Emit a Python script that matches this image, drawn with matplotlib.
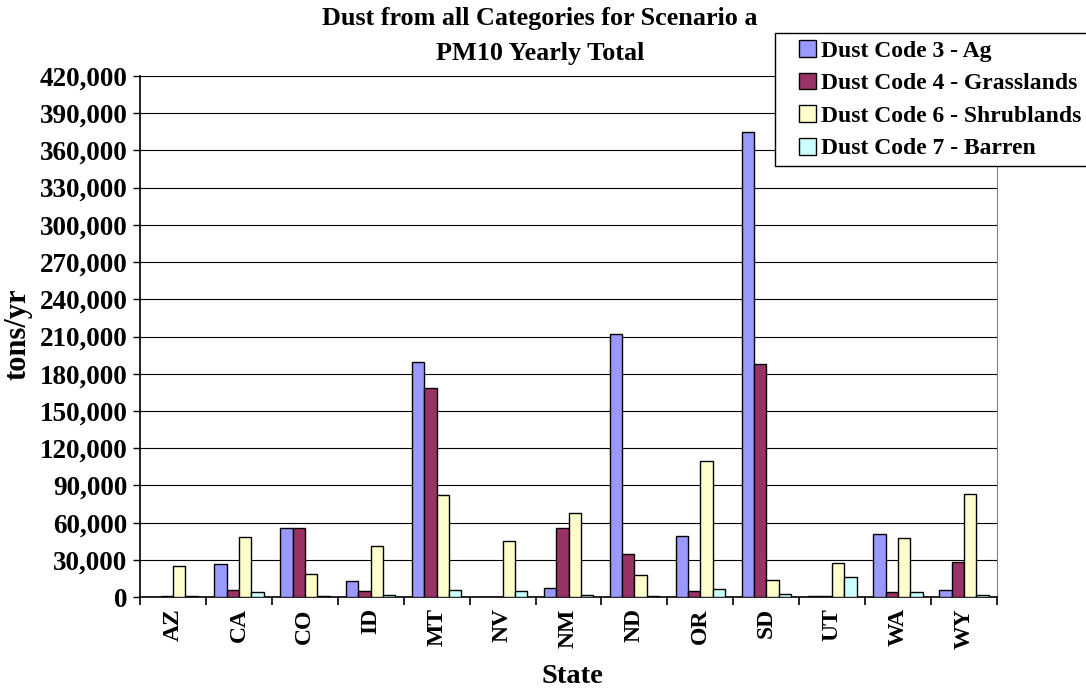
import numpy as np
import matplotlib.pyplot as plt
import matplotlib.patches as mpatches
from matplotlib.legend_handler import HandlerPatch
from matplotlib.ticker import FuncFormatter, MultipleLocator

plt.rcParams['font.family'] = ['Liberation Serif', 'DejaVu Serif']
plt.rcParams['font.weight'] = 'bold'

states = ["AZ", "CA", "CO", "ID", "MT", "NV", "NM", "ND", "OR", "SD", "UT", "WA", "WY"]
ag = [500, 26600, 56100, 12900, 189500, 0, 7100, 212000, 48900, 375000, 1000, 51000, 6000]
grass = [1000, 5900, 56100, 4800, 168500, 500, 55600, 35100, 5000, 188000, 1000, 4200, 28600]
shrub = [25000, 48400, 18800, 41600, 82300, 45600, 67500, 17900, 110000, 14000, 27200, 47800, 83000]
barren = [1000, 4000, 1000, 1500, 5900, 4800, 1800, 800, 6900, 2800, 16400, 4200, 1900]

series = [
    ("Dust Code 3 - Ag", ag, "#9999FF"),
    ("Dust Code 4 - Grasslands", grass, "#993366"),
    ("Dust Code 6 - Shrublands", shrub, "#FFFFCC"),
    ("Dust Code 7 - Barren", barren, "#CCFFFF"),
]


# square legend keys, pushed to the right end of the handle box
def square_key(legend, orig_handle, xdescent, ydescent, width, height, fontsize):
    return mpatches.Rectangle((-xdescent + width - height, -ydescent), height, height)


fig = plt.figure(figsize=(10.86, 6.96), dpi=100)
ax = fig.add_axes([0.129, 0.142, 0.789, 0.749])

x = np.arange(len(states))
w = 0.187
handles, labels = [], []
for i, (name, vals, col) in enumerate(series):
    b = ax.bar(x + (i - 1.5) * w, vals, w, color=col, edgecolor="black",
               linewidth=1.0, label=name, zorder=3)
    handles.append(b.patches[0])
    labels.append(name)

ax.set_xlim(-0.5, len(states) - 0.5)
ax.set_ylim(0, 420000)
ax.yaxis.set_major_locator(MultipleLocator(30000))
ax.yaxis.set_major_formatter(FuncFormatter(lambda v, p: f"{int(v):,}"))
ax.grid(axis="y", color="black", linewidth=0.8, zorder=0)

ax.set_xticks(x)
ax.set_xticklabels(states, rotation=90, fontsize=17, fontweight="bold")
ax.set_xticks(np.arange(-0.5, len(states)), minor=True)
ax.tick_params(axis="x", which="major", length=0, pad=8)
ax.tick_params(axis="x", which="minor", length=6, width=1.2)
ax.tick_params(axis="y", labelsize=19.5, length=5, width=1, pad=4)
for lab in ax.get_yticklabels():
    lab.set_fontweight("bold")

ax.spines["top"].set_visible(False)
ax.spines["right"].set_color("#808080")
ax.spines["left"].set_linewidth(1.2)
ax.spines["bottom"].set_linewidth(1.2)

ax.set_xlabel("State", fontsize=20.5, fontweight="bold")
ax.xaxis.set_label_coords(0.504, -0.128)
ax.set_ylabel("tons/yr", fontsize=22, fontweight="bold")
ax.yaxis.set_label_coords(-0.125, 0.505)
fig.text(0.497, 0.948, "Dust from all Categories for Scenario a\nPM10 Yearly Total",
         ha="center", va="center", fontsize=18.8, fontweight="bold", linespacing=1.65)

leg = fig.legend(handles, labels, loc="upper left", bbox_to_anchor=(0.7136, 0.9526),
                 fontsize=17, frameon=True, fancybox=False, edgecolor="black",
                 framealpha=1, handlelength=1.43, handleheight=0.72,
                 handletextpad=0.2, borderpad=0.3, labelspacing=0.46,
                 borderaxespad=0,
                 handler_map={mpatches.Rectangle: HandlerPatch(patch_func=square_key)})
leg.get_frame().set_linewidth(1.0)
for t in leg.get_texts():
    t.set_fontweight("bold")

fig.savefig("out.png", dpi=100)
